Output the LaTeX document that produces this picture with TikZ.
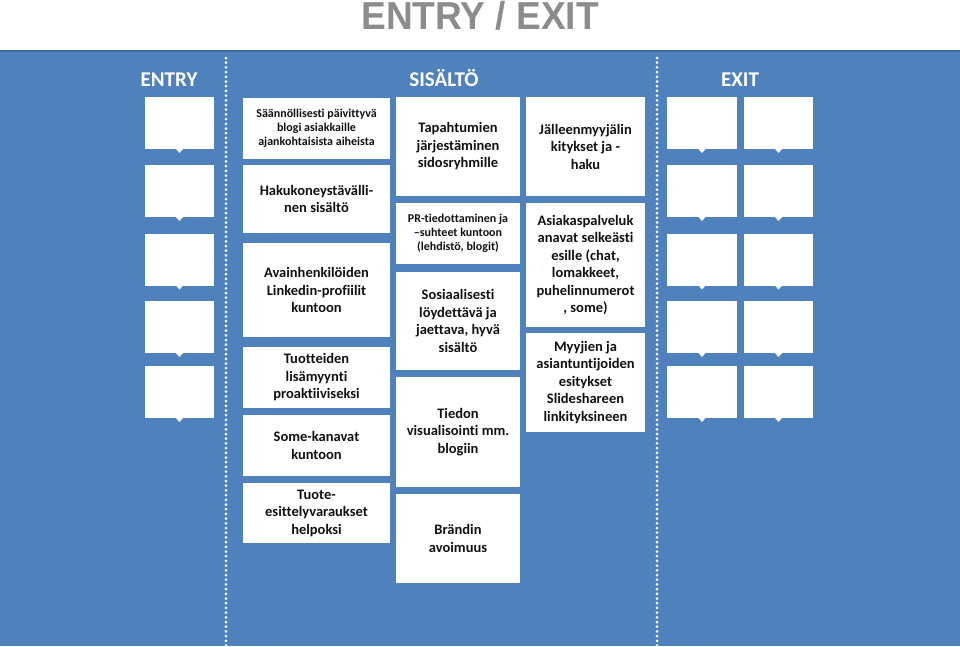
\documentclass[tikz,border=0pt]{standalone}
\usepackage{fontspec}
\setmainfont{Carlito}[Ligatures=CommonOff]
\newfontfamily\titlefont[FakeStretch=0.95]{Liberation Sans}
\definecolor{panelblue}{HTML}{4F81BD}
\definecolor{edgeblue}{HTML}{3C6AA3}
\definecolor{titlegray}{HTML}{8C8C8C}
\definecolor{inktext}{HTML}{111111}
\begin{document}
\begin{tikzpicture}[x=1pt,y=-1pt,
  tbox/.style={fill=white, inner sep=0pt, outer sep=0pt, align=center, text=inktext, font=\bfseries\fontsize{14.5}{17.5}\selectfont},
  tsmall/.style={tbox, font=\bfseries\fontsize{12}{14}\selectfont},
  sbox/.style={fill=white, inner sep=0pt, outer sep=0pt, minimum height=52pt},
  head/.style={text=white, font=\bfseries\fontsize{21}{25}\selectfont, anchor=base, inner sep=0pt},
  dotline/.style={white, line width=3pt, line cap=round, dash pattern=on 0pt off 4.7pt}]
\useasboundingbox (0,0) rectangle (960,646);
\fill[white] (0,0) rectangle (960,646);
\fill[panelblue] (0,50) rectangle (960,646);
\draw[edgeblue, line width=2pt] (0,51) -- (960,51);
\node[text=titlegray, font=\titlefont\bfseries\fontsize{39}{41}\selectfont, inner sep=0pt] (title) at (480,15.5) {ENTRY / EXIT};

\node[head] (hentry) at (169,86) {ENTRY};
\node[head] (hsis) at (444,86) {SISÄLTÖ};
\node[head] (hexit) at (740,86) {EXIT};

\draw[dotline] (226,58) -- (226,646);
\draw[dotline] (657,58) -- (657,646);

\foreach \c/\cx/\w in {e/179.5/69, xa/702/70, xb/778.5/69} {
  \foreach \r/\cy in {1/123, 2/191, 3/259.5, 4/327, 5/392} {
    \node[sbox, minimum width=\w pt] (\c\r) at (\cx,\cy) {};
    \fill[white] (\c\r.south) ++(-3.5,0) -- ++(3.5,4) -- ++(3.5,-4) -- cycle;
  }
}

\node[tsmall, minimum width=147pt, minimum height=61pt] (c1a) at (316.5,128) {Säännöllisesti päivittyvä\\blogi asiakkaille\\ajankohtaisista aiheista};
\node[tbox, minimum width=147pt, minimum height=68pt] (c1b) at (316.5,199) {Hakukoneystävälli-\\nen sisältö};
\node[tbox, minimum width=147pt, minimum height=94pt] (c1c) at (316.5,290) {Avainhenkilöiden\\Linkedin-profiilit\\kuntoon};
\node[tbox, minimum width=147pt, minimum height=61pt] (c1d) at (316.5,377.5) {Tuotteiden\\lisämyynti\\proaktiiviseksi};
\node[tbox, minimum width=147pt, minimum height=61pt] (c1e) at (316.5,445.5) {Some-kanavat\\kuntoon};
\node[tbox, minimum width=147pt, minimum height=60pt] (c1f) at (316.5,513) {Tuote-\\esittelyvaraukset\\helpoksi};

\node[tbox, minimum width=124pt, minimum height=99pt] (c2a) at (458,146.5) {Tapahtumien\\järjestäminen\\sidosryhmille};
\node[tsmall, minimum width=124pt, minimum height=61pt] (c2b) at (458,233.5) {PR-tiedottaminen ja\\–suhteet kuntoon\\(lehdistö, blogit)};
\node[tbox, minimum width=124pt, minimum height=98pt] (c2c) at (458,321) {Sosiaalisesti\\löydettävä ja\\jaettava, hyvä\\sisältö};
\node[tbox, minimum width=124pt, minimum height=110pt] (c2d) at (458,432) {Tiedon\\visualisointi mm.\\blogiin};
\node[tbox, minimum width=124pt, minimum height=89pt] (c2e) at (458,538.5) {Brändin\\avoimuus};

\node[tbox, minimum width=119pt, minimum height=99pt] (c3a) at (585.5,146.5) {Jälleenmyyjälin\\kitykset ja -\\haku};
\node[tbox, minimum width=119pt, minimum height=124pt] (c3b) at (585.5,265) {Asiakaspalveluk\\anavat selkeästi\\esille (chat,\\lomakkeet,\\puhelinnumerot\\{, some)}};
\node[tbox, minimum width=119pt, minimum height=99pt] (c3c) at (585.5,382.5) {Myyjien ja\\asiantuntijoiden\\esitykset\\Slideshareen\\linkityksineen};
\end{tikzpicture}
\end{document}
